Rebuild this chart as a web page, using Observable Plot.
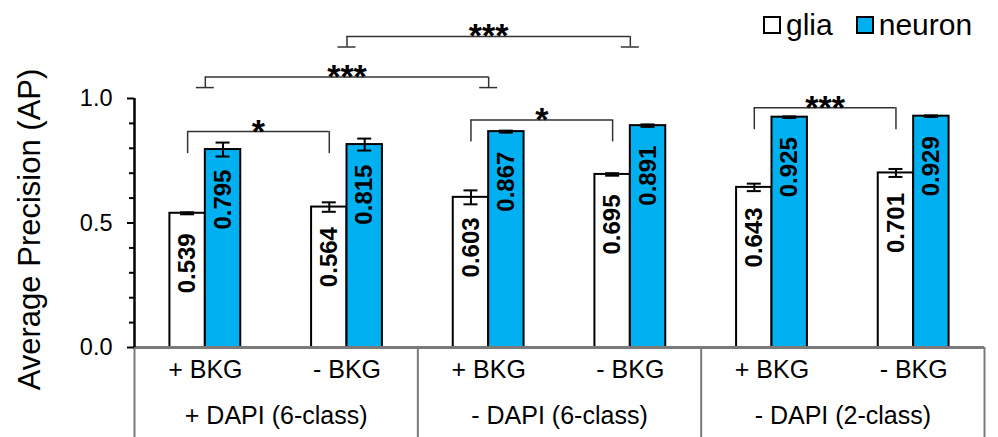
<!DOCTYPE html>
<html><head><meta charset="utf-8">
<script src="https://cdn.jsdelivr.net/npm/d3@7"></script>
<script src="https://cdn.jsdelivr.net/npm/@observablehq/plot@0.6"></script>
<style>
html,body{margin:0;padding:0;background:#fff;}
#chart{position:relative;width:998px;height:437px;overflow:hidden;font-family:"Liberation Sans",Arial,sans-serif;}
#chart .lg-swatches{position:absolute !important;left:764px;top:8px;margin:0 !important;}
#chart .lg-swatch{margin-right:24px !important;}
#chart .lg-swatch:last-child{margin-right:0 !important;}
#chart .lg-swatch > svg{margin-right:6px !important;overflow:visible !important;}
#chart .lg-swatch svg rect{stroke:#000;stroke-width:2px;}
</style></head><body><div id="chart"></div>
<script>
// ---- data ----
const groups = ["+ DAPI (6-class)", "- DAPI (6-class)", "- DAPI (2-class)"];
const conditions = ["+ BKG", "- BKG", "+ BKG", "- BKG", "+ BKG", "- BKG"];
const series = ["glia", "neuron"];
const seriesColors = ["#ffffff", "#00b0f0"];
const gliaAP = [0.539, 0.564, 0.603, 0.695, 0.643, 0.701];
const neuronAP = [0.795, 0.815, 0.867, 0.891, 0.925, 0.929];
const gliaErr = [0.004, 0.019, 0.028, 0.005, 0.015, 0.016];
const neuronErr = [0.028, 0.024, 0.004, 0.005, 0.003, 0.003];
const yTicks = [0, 0.5, 1.0];
const yMinorTicks = [0.1, 0.2, 0.3, 0.4, 0.6, 0.7, 0.8, 0.9];
const yLabel = "Average Precision (AP)";
// significance comparisons
const compFrom = [0, 2, 4, 0, 1];
const compTo = [1, 3, 5, 2, 3];
const compOn = ["glia", "glia", "glia", "category", "category"];
const compLevel = [0.867, 0.914, 0.963, 1.086, 1.249];
const compLabel = ["*", "*", "***", "***", "***"];

// ---- derived tables ----
const barW = 0.25; // bar width in category units
const bars = conditions.flatMap((c, i) => [
  {i, series: "glia", value: gliaAP[i], err: gliaErr[i], x1: i - barW, x2: i},
  {i, series: "neuron", value: neuronAP[i], err: neuronErr[i], x1: i, x2: i + barW}
]);
const cx = d => (d.x1 + d.x2) / 2;
const caps = bars.flatMap(d => [{...d, y: d.value - d.err}, {...d, y: d.value + d.err}]);
const comps = compFrom.map((f, k) => {
  const off = compOn[k] === "glia" ? -barW / 2 : 0;
  return {xa: f + off, xb: compTo[k] + off, level: compLevel[k], label: compLabel[k], kind: compOn[k]};
});
const ends = comps.flatMap(c => [{...c, x: c.xa}, {...c, x: c.xb}]);
const smallEnds = ends.filter(d => d.kind === "glia");
const bigEnds = ends.filter(d => d.kind === "category");
const font = "'Liberation Sans', Arial, sans-serif";
const bracketStroke = "#333";

const plot = Plot.plot({
  width: 998, height: 437,
  marginLeft: 134, marginRight: 14, marginTop: 98, marginBottom: 90,
  x: {domain: [-0.5, conditions.length - 0.5], axis: null},
  y: {domain: [0, 1]},
  color: {domain: series, range: seriesColors},
  style: {fontFamily: font, background: "white", color: "black", overflow: "visible"},
  marks: [
    Plot.rectY(bars, {x1: "x1", x2: "x2", y1: 0, y2: "value", fill: "series", stroke: "black", strokeWidth: 2}),
    Plot.ruleX(bars, {x: cx, y1: d => d.value - d.err, y2: d => d.value + d.err, stroke: "black", strokeWidth: 2}),
    Plot.ruleY(caps, {y: "y", x1: cx, x2: cx, insetLeft: -7, insetRight: -7, stroke: "black", strokeWidth: 2}),
    Plot.text(bars, {x: cx, y: "value", text: d => d3.format(".3f")(d.value), rotate: -90, textAnchor: "end", dy: 20, fontWeight: "bold", fontSize: 24, fill: "black"}),
    // table below the axis
    Plot.ruleY([0], {stroke: "#7a7a7a", strokeWidth: 3}),
    Plot.ruleX(d3.range(groups.length + 1), {x: j => 2 * j - 0.5, y1: 0, y2: 0, insetBottom: -90, stroke: "#7a7a7a", strokeWidth: 2}),
    Plot.text(conditions, {x: (d, i) => i, frameAnchor: "bottom", text: d => d, dy: 30, fontSize: 25, fill: "black"}),
    Plot.text(groups, {x: (d, j) => 2 * j + 0.5, frameAnchor: "bottom", text: d => d, dy: 76, fontSize: 25, fill: "black"}),
    // y axis
    Plot.ruleX([-0.5], {y1: 0, y2: 1, stroke: "black", strokeWidth: 2.5}),
    Plot.axisY({ticks: yMinorTicks, tickSize: 5, tickFormat: () => "", strokeWidth: 2, color: "black", label: null}),
    Plot.axisY({ticks: yTicks, tickSize: 7, tickPadding: 15, tickFormat: ".1f", fontSize: 23.5, strokeWidth: 2, color: "black", label: null}),
    Plot.text([yLabel], {frameAnchor: "left", textAnchor: "middle", lineAnchor: "middle", text: d => d, rotate: -90, dx: -104, dy: 6.5, fontSize: 31, fill: "black"}),
    // significance brackets
    Plot.ruleY(comps, {y: "level", x1: "xa", x2: "xb", stroke: bracketStroke, strokeWidth: 1.5}),
    Plot.ruleX(smallEnds, {x: "x", y1: "level", y2: "level", insetBottom: -22, stroke: bracketStroke, strokeWidth: 1.5}),
    Plot.ruleX(bigEnds, {x: "x", y1: "level", y2: "level", insetBottom: -10.5, stroke: bracketStroke, strokeWidth: 1.5}),
    Plot.ruleY(bigEnds, {y: "level", x1: "x", x2: "x", dy: 10.5, insetLeft: -9, insetRight: -9, stroke: bracketStroke, strokeWidth: 1.5}),
    Plot.text(comps, {x: d => (d.xa + d.xb) / 2, y: "level", text: "label", fontSize: 34, fontWeight: "bold", dy: 0, fill: "black"})
  ]
});

const legend = Plot.legend({
  legend: "swatches",
  color: {type: "ordinal", domain: series, range: seriesColors},
  swatchSize: 16,
  className: "lg",
  style: {fontSize: "30px", fontFamily: font, color: "black"}
});

const root = document.getElementById("chart");
root.appendChild(plot);
root.appendChild(legend);
</script></body></html>
